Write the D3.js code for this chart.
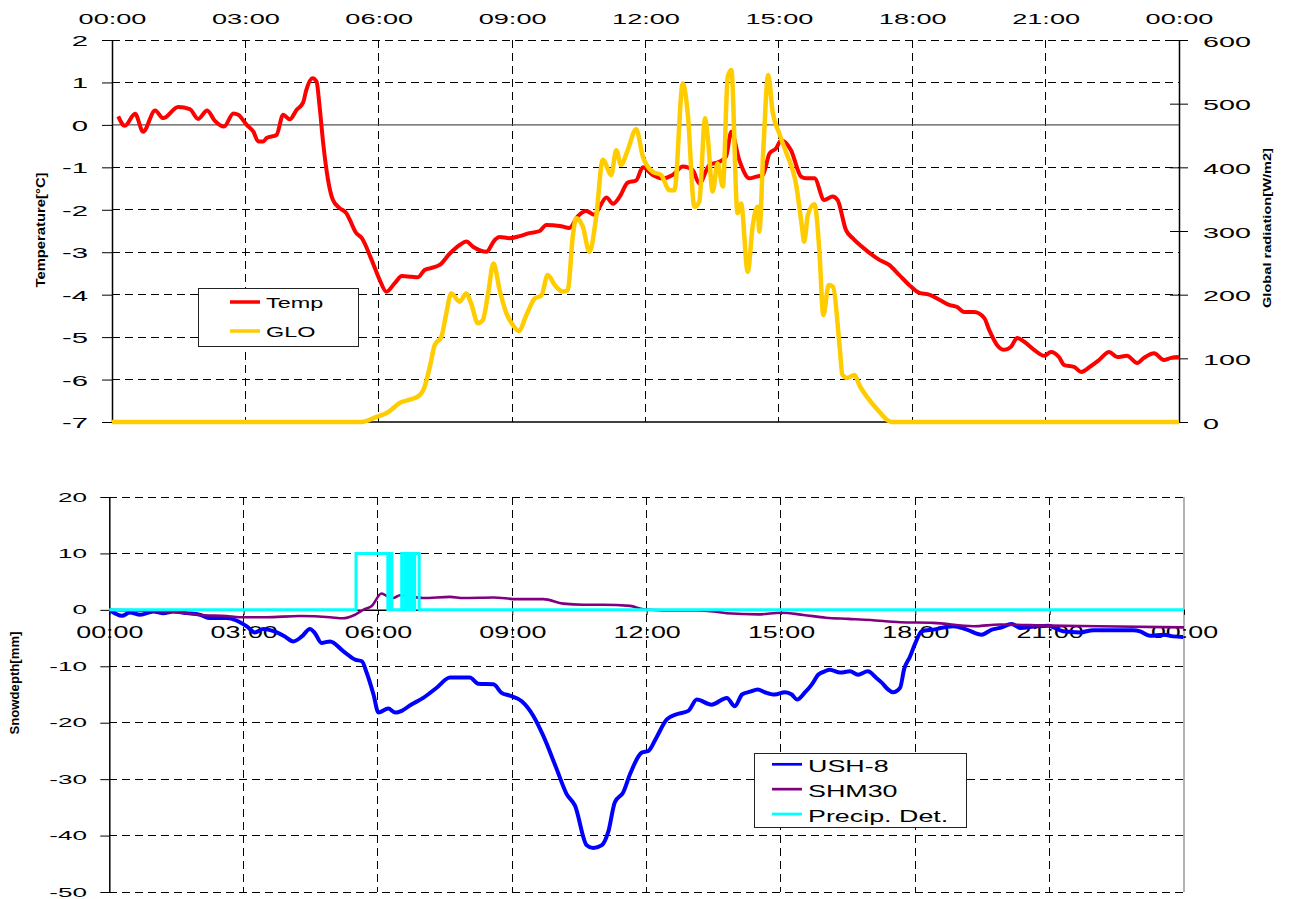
<!DOCTYPE html>
<html><head><meta charset="utf-8">
<script src="https://cdn.jsdelivr.net/npm/d3@7"></script>
<style>html,body{margin:0;padding:0;background:#fff;} svg{display:block;}</style>
</head><body><svg id="c" width="1291" height="899"></svg>
<script>
// ---------- data ----------
const timeTicks = [0,3,6,9,12,15,18,21,24];
const timeLabels = ["00:00","03:00","06:00","09:00","12:00","15:00","18:00","21:00","00:00"];
const tempTicks = [2,1,0,-1,-2,-3,-4,-5,-6,-7];
const gloTicks = [600,500,400,300,200,100,0];
const snowTicks = [20,10,0,-10,-20,-30,-40,-50];

const tempHours = [0.14,0.29,0.52,0.70,0.97,1.15,1.49,1.75,1.94,2.14,2.31,2.52,2.73,2.84,3.03,3.18,3.29,3.40,3.48,3.70,
3.85,4.00,4.15,4.30,4.37,4.51,4.60,4.67,4.75,4.86,4.97,5.12,5.27,5.35,5.48,5.62,5.84,6.02,6.17,6.36,
6.52,6.74,6.88,7.03,7.15,7.37,7.60,7.82,7.97,8.12,8.42,8.61,8.72,8.94,9.17,9.39,9.62,9.77,10.07,10.29,
10.47,10.67,10.85,10.97,11.12,11.27,11.42,11.60,11.79,11.94,12.16,12.39,12.61,12.84,13.06,13.21,13.44,13.66,13.81,13.93,
14.11,14.34,14.49,14.64,14.79,14.94,15.05,15.27,15.50,15.61,15.80,16.02,16.21,16.32,16.51,16.66,16.96,17.26,17.48,17.71,
17.93,18.16,18.38,18.61,18.83,19.01,19.17,19.39,19.62,19.73,19.91,20.07,20.22,20.36,20.52,20.74,20.97,21.12,21.30,21.42,
21.64,21.80,22.02,22.20,22.43,22.61,22.83,23.06,23.21,23.44,23.66,23.82,24.0];
const tempValues = [0.20,-0.02,0.26,-0.16,0.34,0.16,0.42,0.37,0.14,0.34,0.10,-0.04,0.27,0.24,0,-0.16,-0.39,-0.39,-0.31,-0.24,
0.24,0.13,0.35,0.53,0.82,1.10,1.02,0.43,-0.43,-1.30,-1.77,-1.96,-2.08,-2.24,-2.53,-2.67,-3.18,-3.65,-3.93,-3.73,
-3.56,-3.58,-3.59,-3.42,-3.38,-3.30,-3.03,-2.83,-2.75,-2.87,-2.99,-2.71,-2.64,-2.67,-2.62,-2.55,-2.50,-2.36,-2.38,-2.43,
-2.16,-2.03,-2.12,-1.93,-1.71,-1.86,-1.69,-1.36,-1.31,-1.0,-1.18,-1.26,-1.18,-0.98,-1.06,-1.38,-0.94,-0.87,-0.75,-0.16,
-0.83,-1.26,-1.22,-1.18,-0.67,-0.55,-0.36,-0.59,-1.22,-1.26,-1.26,-1.77,-1.69,-1.77,-2.48,-2.67,-2.95,-3.18,-3.30,-3.54,
-3.77,-3.96,-4.0,-4.12,-4.24,-4.29,-4.41,-4.41,-4.55,-4.83,-5.19,-5.30,-5.23,-5.02,-5.11,-5.30,-5.44,-5.35,-5.47,-5.66,
-5.70,-5.82,-5.68,-5.54,-5.35,-5.47,-5.44,-5.61,-5.49,-5.38,-5.54,-5.49,-5.47];

const gloHours = [0,5.61,5.95,6.2,6.47,6.70,6.92,7.03,7.15,7.26,7.41,7.52,7.63,7.82,7.97,8.08,8.23,8.34,8.46,8.58,
8.72,8.87,9.02,9.15,9.32,9.51,9.66,9.80,9.96,10.14,10.25,10.37,10.44,10.59,10.74,10.89,11.04,11.23,11.34,11.45,
11.60,11.79,11.94,12.16,12.35,12.54,12.65,12.84,12.95,13.10,13.21,13.34,13.40,13.51,13.62,13.74,13.85,13.93,14.07,14.15,
14.30,14.41,14.52,14.56,14.65,14.76,14.86,15.01,15.16,15.39,15.51,15.57,15.65,15.80,15.91,16.0,16.12,16.22,16.36,16.43,
16.54,16.70,16.81,17.03,17.26,17.44,17.55,24];
const gloValues = [0,0,8,15,30,35,42,55,87,121,134,171,202,189,202,186,155,160,202,249,
207,171,152,143,168,194,199,231,215,205,207,295,320,307,267,322,412,388,427,404,
427,460,417,393,388,364,364,532,485,338,346,477,448,362,406,370,542,553,328,343,
236,307,338,299,427,545,487,453,424,372,312,283,325,342,270,168,215,212,124,74,
69,74,58,35,16,3,0,0];

const ushHours = [0.02,0.28,0.46,0.69,0.98,1.21,1.43,1.73,2.03,2.25,2.62,2.84,3.07,3.25,3.44,3.74,3.92,4.11,4.30,4.48,
4.59,4.74,4.93,5.23,5.49,5.64,5.75,5.90,6.01,6.23,6.38,6.53,6.72,7.01,7.31,7.61,8.05,8.24,8.58,8.76,
8.95,9.21,9.47,9.69,9.99,10.21,10.40,10.66,10.81,11.00,11.14,11.29,11.48,11.63,11.89,12.04,12.22,12.45,12.67,12.93,
13.12,13.45,13.79,13.97,14.13,14.31,14.48,14.64,14.86,15.09,15.24,15.36,15.54,15.69,15.83,15.98,16.09,16.32,16.54,16.72,
16.94,17.12,17.25,17.39,17.50,17.66,17.75,17.88,18.0,18.14,18.40,18.85,19.15,19.48,19.71,19.89,20.15,20.34,20.71,20.97,
21.30,21.68,21.97,22.42,22.87,23.02,23.24,23.54,23.76,23.98];
const ushValues = [-0.1,-1.06,-0.48,-0.88,-0.3,-0.58,-0.3,-0.58,-0.88,-1.46,-1.46,-1.89,-2.94,-4.0,-3.40,-4.0,-4.71,-5.59,-4.71,-3.40,
-4.11,-5.87,-5.59,-7.35,-8.82,-9.12,-11.2,-15.0,-18.2,-17.5,-18.2,-17.9,-16.9,-15.6,-13.8,-12.0,-12.0,-13.1,-13.2,-14.7,
-15.2,-16.2,-18.8,-22.3,-28.2,-32.6,-34.7,-41.7,-42.2,-41.7,-39.4,-34.1,-32.3,-29.1,-25.3,-25.0,-22.6,-19.4,-18.5,-17.9,
-15.9,-16.8,-15.6,-17.1,-15.0,-14.5,-14.1,-14.6,-15.0,-14.6,-15.0,-15.9,-14.6,-13.2,-11.5,-10.9,-10.6,-11.1,-10.9,-11.5,
-10.9,-12.0,-12.9,-14.1,-14.6,-13.8,-10.5,-8.3,-5.9,-3.8,-3.5,-2.9,-3.5,-4.4,-3.5,-3.2,-2.5,-3.2,-2.9,-2.8,
-3.8,-4.0,-3.6,-3.6,-3.6,-3.8,-4.6,-4.4,-4.7,-4.8];

const shmHours = [0,1.28,1.73,2.03,2.62,2.91,3.5,4.26,4.93,5.22,5.45,5.67,5.86,6.08,6.23,6.34,6.49,7.01,7.61,7.91,
8.58,9.10,9.69,10.14,10.58,11.03,11.63,11.93,12.37,13.12,13.49,13.79,14.5,15.0,15.5,16.0,16.5,17.0,17.66,18.4,
19.3,19.9,21.0,22.1,24];
const shmValues = [0,-0.3,-0.6,-0.9,-1.1,-1.3,-1.3,-1.1,-1.3,-1.5,-1.0,0.0,0.7,2.9,2.3,2.1,2.6,2.1,2.3,2.1,
2.2,1.9,1.9,1.1,0.9,0.9,0.7,0.1,-0.1,-0.1,-0.3,-0.6,-0.8,-0.5,-0.9,-1.4,-1.6,-1.8,-2.2,-2.3,
-2.9,-2.6,-2.8,-2.9,-3.1];

const precipStart = [5.51,6.27,6.53,6.64,6.73,6.82];
const precipEnd   = [6.22,6.31,6.60,6.70,6.78,6.92];
const precipLevel = 10;

const topLegend = ["Temp","GLO"];
const botLegend = ["USH-8","SHM30","Precip. Det."];

// ---------- drawing ----------
const FONT = "'Liberation Sans', Arial, sans-serif";
const svg = d3.select('#c');

const xT = d3.scaleLinear().domain([0,24]).range([112,1179]);
const yT = d3.scaleLinear().domain([-7,2]).range([422,40]);
const yG = d3.scaleLinear().domain([0,600]).range([422,40]);
const xB = d3.scaleLinear().domain([0,24]).range([109.3,1184]);
const yB = d3.scaleLinear().domain([-50,20]).range([892,497]);

const DASH = "8,5";

function styleAxis(g, size, sx, dx, dy, anchor){
  g.attr('font-size',null).attr('font-family',null);
  g.selectAll('.tick line').attr('stroke','#000');
  g.select('.domain').attr('stroke','#000').attr('stroke-width',1.5);
  g.selectAll('text')
    .attr('font-family',FONT).attr('font-size',size).attr('fill','#000')
    .attr('text-anchor',anchor).attr('dy',null)
    .attr('x',dx/sx).attr('y',dy)
    .attr('transform',`scale(${sx},1)`);
}

// ===== TOP PANEL =====
const gridT = svg.append('g').attr('shape-rendering','crispEdges');
gridT.selectAll('line.h').data(tempTicks.filter(v=>v!==0 && v!==-7)).enter().append('line')
  .attr('x1',xT(0)).attr('x2',xT(24)).attr('y1',d=>yT(d)).attr('y2',d=>yT(d))
  .attr('stroke','#000').attr('stroke-dasharray',DASH);
gridT.selectAll('line.v').data(timeTicks.slice(1,-1)).enter().append('line')
  .attr('x1',d=>xT(d)).attr('x2',d=>xT(d)).attr('y1',yT(2)).attr('y2',yT(-7))
  .attr('stroke','#000').attr('stroke-dasharray',DASH);
svg.append('line').attr('x1',xT(0)).attr('x2',xT(24)).attr('y1',yT(0)).attr('y2',yT(0))
  .attr('stroke','#555').attr('stroke-width',1.4);
svg.append('line').attr('x1',xT(0)).attr('x2',xT(24)).attr('y1',yT(-7)).attr('y2',yT(-7))
  .attr('stroke','#000').attr('stroke-width',1.5);

const axL = svg.append('g').attr('transform',`translate(${xT(0)},0)`)
  .call(d3.axisLeft(yT).tickValues(tempTicks).tickSize(10).tickSizeOuter(0).tickFormat(d=>String(d)));
styleAxis(axL, 15, 1.95, -24, 5.5, 'end');

const axR = svg.append('g').attr('transform',`translate(${xT(24)},0)`)
  .call(d3.axisRight(yG).tickValues(gloTicks).tickSize(9).tickSizeOuter(0).tickFormat(d=>String(d)));
styleAxis(axR, 14, 2.05, 24, 6, 'start');
axR.selectAll('.tick line').attr('x1',-9).attr('x2',9);

const axTop = svg.append('g').attr('transform',`translate(0,${yT(2)})`)
  .call(d3.axisTop(xT).tickValues(timeTicks).tickSize(0).tickFormat((d,i)=>timeLabels[i]));
styleAxis(axTop, 14, 1.94, 0, -16, 'middle');
axTop.select('.domain').remove();

svg.append('text').attr('transform','translate(45,230) rotate(-90)')
  .attr('text-anchor','middle').attr('font-family',FONT).attr('font-weight','bold').attr('font-size',13)
  .attr('textLength',115).attr('lengthAdjust','spacingAndGlyphs').text('Temperature[°C]');
svg.append('text').attr('transform','translate(1271,228) rotate(-90)')
  .attr('text-anchor','middle').attr('font-family',FONT).attr('font-weight','bold').attr('font-size',11.5)
  .attr('textLength',160).attr('lengthAdjust','spacingAndGlyphs').text('Global radiation[W/m2]');

const lineTemp = d3.line().x((d,i)=>xT(tempHours[i])).y(d=>yT(d)).curve(d3.curveMonotoneX);
const lineGlo = d3.line().x((d,i)=>xT(gloHours[i])).y(d=>yG(d)).curve(d3.curveMonotoneX);
svg.append('path').datum(tempValues).attr('d',lineTemp).attr('fill','none')
  .attr('stroke','#FF0000').attr('stroke-width',4).attr('stroke-linejoin','round');
svg.append('path').datum(gloValues).attr('d',lineGlo).attr('fill','none')
  .attr('stroke','#FFCC00').attr('stroke-width',4.5).attr('stroke-linejoin','round');

const lgT = svg.append('g');
lgT.append('rect').attr('x',198.5).attr('y',288.5).attr('width',160).attr('height',58)
  .attr('fill','#fff').attr('stroke','#222').attr('stroke-width',1);
const topColors = ['#FF0000','#FFCC00'];
topLegend.forEach((name,i)=>{
  const y = 302 + i*29;
  lgT.append('line').attr('x1',230).attr('x2',260).attr('y1',y).attr('y2',y)
    .attr('stroke',topColors[i]).attr('stroke-width',3.5);
  lgT.append('text').attr('transform',`translate(266,${y+6}) scale(1.56,1)`)
    .attr('font-family',FONT).attr('font-size',15).attr('fill','#000').text(name);
});

// ===== BOTTOM PANEL =====
const gridB = svg.append('g').attr('shape-rendering','crispEdges');
gridB.selectAll('line.h').data(snowTicks.filter(v=>v!==0)).enter().append('line')
  .attr('x1',xB(0)).attr('x2',xB(24)).attr('y1',d=>yB(d)).attr('y2',d=>yB(d))
  .attr('stroke','#000').attr('stroke-dasharray',DASH);
gridB.selectAll('line.v').data(timeTicks.slice(1,-1)).enter().append('line')
  .attr('x1',d=>xB(d)).attr('x2',d=>xB(d)).attr('y1',yB(20)).attr('y2',yB(-50))
  .attr('stroke','#000').attr('stroke-dasharray',DASH);
svg.append('line').attr('x1',xB(24)).attr('x2',xB(24)).attr('y1',yB(20)).attr('y2',yB(-50))
  .attr('stroke','#808080').attr('stroke-width',1.2);

const axBL = svg.append('g').attr('transform',`translate(${xB(0)},0)`)
  .call(d3.axisLeft(yB).tickValues(snowTicks).tickSize(9).tickSizeOuter(0).tickFormat(d=>String(d)));
styleAxis(axBL, 12.6, 2.07, -22.3, 4.0, 'end');

const axBB = svg.append('g').attr('transform',`translate(0,${yB(0)})`)
  .call(d3.axisBottom(xB).tickValues(timeTicks).tickSize(5).tickSizeOuter(0).tickFormat((d,i)=>timeLabels[i]));
styleAxis(axBB, 16, 1.68, 0, 28, 'middle');

svg.append('text').attr('transform','translate(19,683) rotate(-90)')
  .attr('text-anchor','middle').attr('font-family',FONT).attr('font-weight','bold').attr('font-size',12)
  .attr('textLength',103).attr('lengthAdjust','spacingAndGlyphs').text('Snowdepth[mm]');

const lineUsh = d3.line().x((d,i)=>xB(ushHours[i])).y(d=>yB(d)).curve(d3.curveMonotoneX);
const lineShm = d3.line().x((d,i)=>xB(shmHours[i])).y(d=>yB(d)).curve(d3.curveMonotoneX);
svg.append('path').datum(ushValues).attr('d',lineUsh).attr('fill','none')
  .attr('stroke','#0000FF').attr('stroke-width',4).attr('stroke-linejoin','round');
svg.append('path').datum(shmValues).attr('d',lineShm).attr('fill','none')
  .attr('stroke','#800080').attr('stroke-width',2.6).attr('stroke-linejoin','round');

const precipSeries = [[0,0]];
precipStart.forEach((s,i)=>{
  precipSeries.push([s,0],[s,precipLevel],[precipEnd[i],precipLevel],[precipEnd[i],0]);
});
precipSeries.push([24,0]);
svg.append('path').datum(precipSeries)
  .attr('d',d3.line().x(d=>xB(d[0])).y(d=>yB(d[1])))
  .attr('fill','none').attr('stroke','#00FFFF').attr('stroke-width',3);

const lgB = svg.append('g');
lgB.append('rect').attr('x',754.5).attr('y',753.5).attr('width',212).attr('height',74)
  .attr('fill','#fff').attr('stroke','#222').attr('stroke-width',1);
const botColors = ['#0000FF','#800080','#00FFFF'];
botLegend.forEach((name,i)=>{
  const y = 764.3 + i*24.85;
  lgB.append('line').attr('x1',772).attr('x2',802).attr('y1',y).attr('y2',y)
    .attr('stroke',botColors[i]).attr('stroke-width',2.7);
  lgB.append('text').attr('transform',`translate(808,${y+7.5}) scale(1.58,1)`)
    .attr('font-family',FONT).attr('font-size',17).attr('fill','#000').text(name);
});
</script>
</body></html>
